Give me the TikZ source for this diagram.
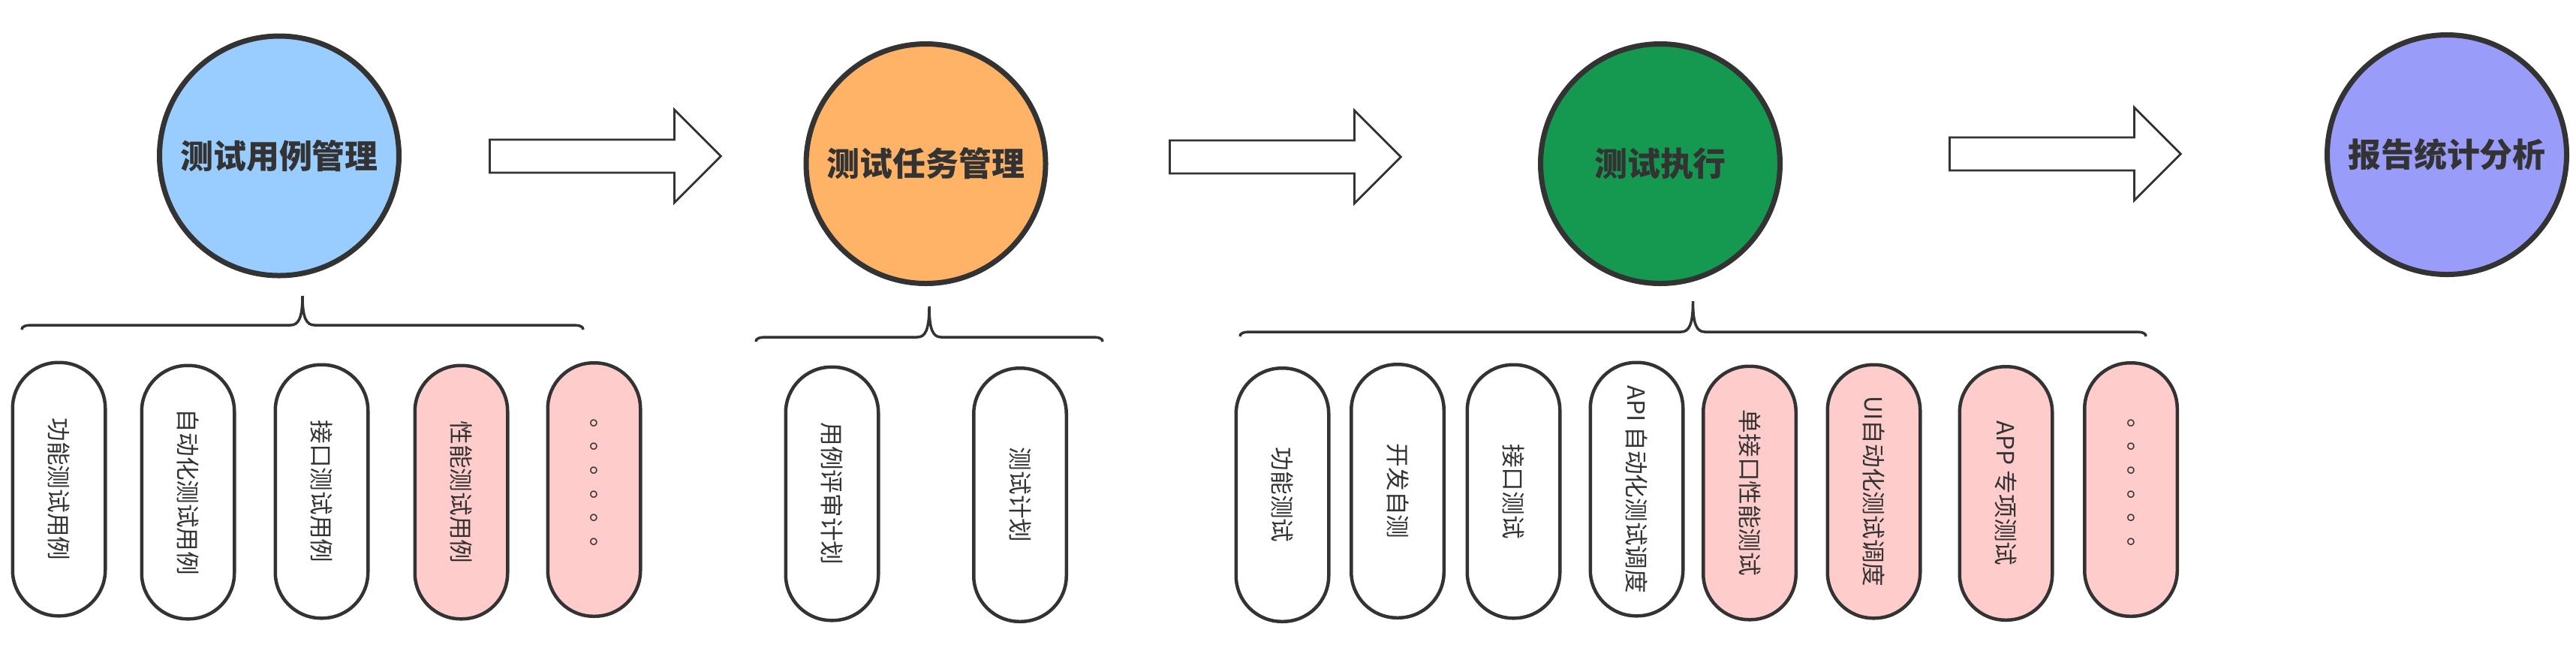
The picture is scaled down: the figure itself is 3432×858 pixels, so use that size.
\documentclass[tikz,border=0pt]{standalone}
\usepackage{fontspec}
\setmainfont{Noto Sans CJK SC}
\usetikzlibrary{shapes.arrows}

\definecolor{linegray}{HTML}{333333}
\definecolor{casefill}{HTML}{99CCFF}
\definecolor{taskfill}{HTML}{FFB366}
\definecolor{execfill}{HTML}{159850}
\definecolor{reportfill}{HTML}{9A9CFA}
\definecolor{pinkfill}{HTML}{FFCCCC}

\begin{document}
\begin{tikzpicture}[x=0.1mm, y=-0.1mm,
    phase/.style={circle, draw=linegray, line width=0.7mm, minimum size=31.9mm,
      inner sep=0pt, text=linegray, font=\fontsize{12.5pt}{14pt}\selectfont\bfseries},
    item/.style={draw=linegray, line width=0.45mm, rounded corners=6.1mm,
      minimum width=33.75mm, minimum height=12.35mm, inner sep=0pt, rotate=-90,
      fill=white, text=linegray, font=\fontsize{9pt}{10pt}\selectfont},
    pinkitem/.style={item, fill=pinkfill},
    flow/.style={single arrow, draw=linegray, line width=0.8pt, fill=white,
      minimum height=30.8mm, inner xsep=0pt, inner ysep=2.06mm,
      single arrow head extend=4mm, anchor=tail},
    curly/.style={draw=linegray, line width=0.35mm}]
    \useasboundingbox (0,0) rectangle (3432,858);

    % main phases
    \node[phase, fill=casefill] (case) at (372,207.5) {测试用例管理};
    \node[phase, fill=taskfill] (task) at (1233.5,218) {测试任务管理};
    \node[phase, fill=execfill] (exec) at (2212,218) {测试执行};
    \node[phase, fill=reportfill] (report) at (3260,206) {报告统计分析};

    % block arrows between phases
    \node[flow] (a1) at (651,208) {};
    \node[flow] (a2) at (1557,209) {};
    \node[flow] (a3) at (2596,205) {};

    % braces under the phases
    \foreach \l/\r/\h/\t in {29/777/433/394, 1007/1469/449/408, 1652/2859/442/401} {
      \pgfmathsetmacro\m{(\l+\r)/2}
      \draw[curly] (\l,\h+6) .. controls (\l,\h+2) and (\l+4,\h) .. (\l+14,\h)
        -- (\m-16,\h) .. controls (\m-5,\h) and (\m,\h-10) .. (\m,\t)
        .. controls (\m,\h-10) and (\m+5,\h) .. (\m+16,\h)
        -- (\r-14,\h) .. controls (\r-4,\h) and (\r,\h+2) .. (\r,\h+6);
    }

    % test case management
    \node[item] (c1) at (78.5,651.5) {功能测试用例};
    \node[item] (c2) at (250.5,655.5) {自动化测试用例};
    \node[item] (c3) at (428.5,654.5) {接口测试用例};
    \node[pinkitem] (c4) at (614.5,655.5) {性能测试用例};
    \node[pinkitem] (c5) at (791.5,652) {。。。。。。};

    % test task management
    \node[item] (t1) at (1108.5,657.5) {用例评审计划};
    \node[item] (t2) at (1359,659) {测试计划};

    % test execution
    \node[item] (e1) at (1708.5,659) {功能测试};
    \node[item] (e2) at (1862,654) {开发自测};
    \node[item] (e3) at (2016.5,654.5) {接口测试};
    \node[item] (e4) at (2180.5,651.5) {API 自动化测试调度};
    \node[pinkitem] (e5) at (2331,656.5) {单接口性能测试};
    \node[pinkitem] (e6) at (2496.5,654.5) {UI自动化测试调度};
    \node[pinkitem] (e7) at (2672.5,657) {APP 专项测试};
    \node[pinkitem] (e8) at (2839,652) {。。。。。。};
  \end{tikzpicture}
\end{document}
